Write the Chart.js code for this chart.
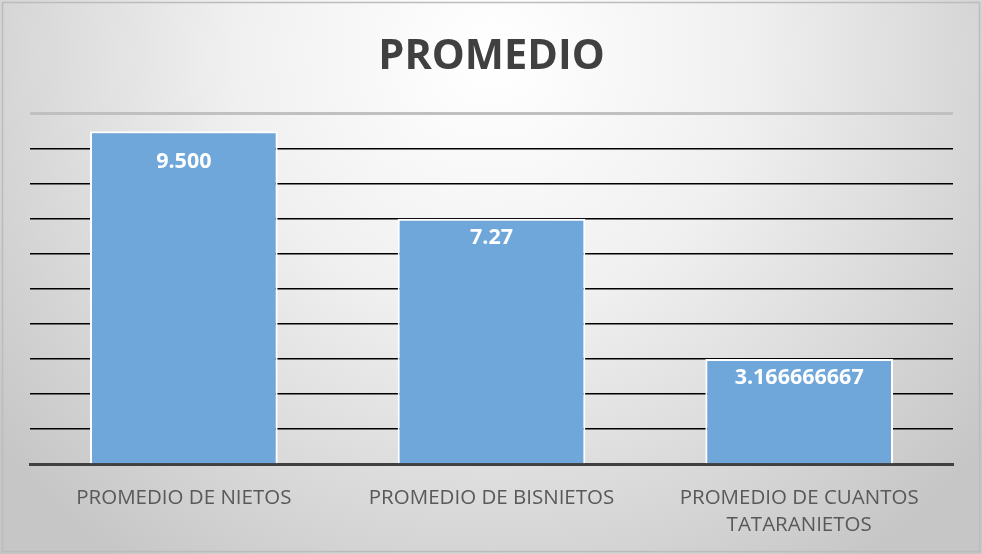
<!DOCTYPE html>
<html>
<head>
<meta charset="utf-8">
<script src="https://cdn.jsdelivr.net/npm/chart.js@4.4.0/dist/chart.umd.min.js"></script>
<style>
html,body{margin:0;padding:0;background:#fff;}
#wrap{width:982px;height:554px;position:relative;}
</style>
</head>
<body>
<div id="wrap"><canvas id="c" width="982" height="554"></canvas></div>
<script>
const categories = ["PROMEDIO DE NIETOS", "PROMEDIO DE BISNIETOS", ["PROMEDIO DE CUANTOS", "TATARANIETOS"]];
const barValues = [9.5, 7.0, 3.0];
const valueLabels = ["9.500", "7.27", "3.166666667"];
const yTicks = [0, 1, 2, 3, 4, 5, 6, 7, 8, 9, 10];

const bgPlugin = {
  id: 'bg',
  beforeDraw(chart) {
    const ctx = chart.ctx, w = chart.width, h = chart.height;
    ctx.save();
    const g = ctx.createRadialGradient(w * 0.5, h * 0.1, 10, w * 0.5, h * 0.1, w * 0.64);
    g.addColorStop(0, '#ffffff');
    g.addColorStop(0.4, '#f0f0f0');
    g.addColorStop(1, '#c6c6c6');
    ctx.fillStyle = g;
    ctx.fillRect(0, 0, w, h);
    ctx.strokeStyle = '#bcbcbc';
    ctx.lineWidth = 1.5;
    ctx.strokeRect(2.5, 2.5, w - 5, h - 5);
    ctx.restore();
  }
};

const labelPlugin = {
  id: 'valLabels',
  afterDatasetsDraw(chart, args, opts) {
    const ctx = chart.ctx;
    const meta = chart.getDatasetMeta(0);
    ctx.save();
    ctx.fillStyle = '#ffffff';
    ctx.font = 'bold 21.5px "Open Sans"';
    ctx.textAlign = 'center';
    ctx.textBaseline = 'middle';
    meta.data.forEach((bar, i) => {
      ctx.fillText(valueLabels[i], bar.x, bar.y + opts.offsets[i]);
    });
    ctx.restore();
  }
};

new Chart(document.getElementById('c'), {
  type: 'bar',
  data: {
    labels: categories,
    datasets: [{
      data: barValues,
      backgroundColor: '#70a7da',
      borderColor: '#ffffff',
      borderWidth: 2,
      borderSkipped: 'bottom',
      categoryPercentage: 1.0,
      barPercentage: 0.61
    }]
  },
  plugins: [bgPlugin, labelPlugin],
  options: {
    responsive: false,
    animation: false,
    layout: { padding: { left: 30, right: 29, top: 0, bottom: 0 } },
    plugins: {
      legend: { display: false },
      tooltip: { enabled: false },
      valLabels: { offsets: [31, 19, 19] },
      title: {
        display: true,
        text: 'PROMEDIO',
        color: '#404040',
        font: { family: '"Open Sans"', size: 41.5, weight: 'bold' },
        padding: { top: 32, bottom: 32 }
      }
    },
    scales: {
      x: {
        grid: { display: false, drawTicks: false },
        border: { display: true, color: '#404040', width: 3 },
        ticks: {
          color: '#595959',
          font: { family: '"Open Sans"', size: 20.5, lineHeight: 1.35 },
          padding: 20,
          maxRotation: 0,
          autoSkip: false
        },
        afterFit(scale) { scale.height = 90; }
      },
      y: {
        min: 0,
        max: 10,
        afterBuildTicks(scale) { scale.ticks = yTicks.map(v => ({ value: v })); },
        ticks: { display: false },
        border: { display: false },
        grid: {
          drawTicks: false,
          color: ctx => ctx.tick && ctx.tick.value === 10 ? '#c0c0c0' : (ctx.tick && ctx.tick.value === 0 ? 'rgba(0,0,0,0)' : '#000000'),
          lineWidth: ctx => ctx.tick && ctx.tick.value === 10 ? 3 : 1.6
        },
        afterFit(scale) { scale.width = 0; }
      }
    }
  }
});
</script>
</body>
</html>
